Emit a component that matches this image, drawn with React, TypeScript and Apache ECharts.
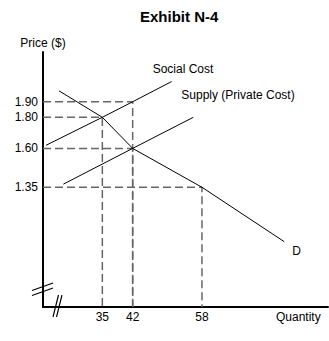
import React, { useEffect, useRef } from "react";
import * as echarts from "echarts";

const quantityTicks = [35, 42, 58];
const priceTicks = [1.35, 1.6, 1.8, 1.9];
const socialCost = [[22, 1.62], [35, 1.8], [42, 1.9], [51, 2.03]];
const supply = [[26, 1.37], [42, 1.6], [56, 1.8]];
const demand = [[25, 1.97], [35, 1.8], [42, 1.6], [58, 1.35], [77, 1.0]];
const equilibria = [[42, 1.9], [35, 1.8], [42, 1.6], [58, 1.35]];
const quantityRange = [21.3, 87.1];
const priceRange = [0.58, 2.22];

const FONT = "'Liberation Sans', Arial, Helvetica, sans-serif";

export default function App() {
  const ref = useRef<HTMLDivElement>(null);
  useEffect(() => {
    if (!ref.current) return;
    const chart = echarts.init(ref.current, undefined, { renderer: "svg" });
    const [xMin, xMax] = quantityRange;
    const [yMin, yMax] = priceRange;

    const guideSeries = equilibria.map(([q, p]) => ({
      type: "line",
      silent: true,
      showSymbol: false,
      symbol: "none",
      z: 1,
      data: [[xMin, p], [q, p], [q, yMin]],
      lineStyle: { color: "#666", width: 1.5, type: [8, 4] },
    }));

    const curve = (name: string, data: number[][], offset: number[]) => ({
      type: "line",
      name,
      silent: true,
      showSymbol: false,
      symbol: "none",
      z: 3,
      data,
      lineStyle: { color: "#000", width: 1 },
      endLabel: {
        show: true,
        formatter: name,
        offset,
        color: "#000",
        fontSize: 12,
        fontFamily: FONT,
      },
    });

    chart.setOption({
      animation: false,
      backgroundColor: "#fff",
      title: {
        text: "Exhibit N-4",
        left: 140,
        top: 9,
        padding: 0,
        textStyle: { fontSize: 15, fontWeight: "bold", color: "#000", fontFamily: FONT },
      },
      grid: { left: 43, right: 1, top: 52, bottom: 34, containLabel: false },
      xAxis: {
        type: "value",
        min: xMin,
        max: xMax,
        name: "Quantity",
        nameLocation: "end",
        nameGap: -52,
        nameTextStyle: {
          color: "#000",
          fontSize: 12,
          fontFamily: FONT,
          align: "left",
          verticalAlign: "top",
          padding: [4, 0, 0, 0],
        },
        axisLine: { show: true, lineStyle: { color: "#000", width: 2 } },
        axisTick: { show: false },
        splitLine: { show: false },
        axisLabel: {
          customValues: quantityTicks,
          formatter: (v: number) => String(v),
          margin: 4,
          color: "#000",
          fontSize: 12,
          fontFamily: FONT,
        },
      },
      yAxis: {
        type: "value",
        min: yMin,
        max: yMax,
        name: "Price ($)",
        nameLocation: "end",
        nameGap: 3,
        nameTextStyle: { color: "#000", fontSize: 12, fontFamily: FONT },
        axisLine: { show: true, onZero: false, lineStyle: { color: "#000", width: 2 } },
        axisTick: { show: false },
        splitLine: { show: false },
        axisLabel: {
          customValues: priceTicks,
          formatter: (v: number) => v.toFixed(2),
          margin: 5,
          color: "#000",
          fontSize: 12,
          fontFamily: FONT,
        },
      },
      series: [
        ...guideSeries,
        curve("Social Cost", socialCost, [-27, -13]),
        curve("Supply (Private Cost)", supply, [-20, -22]),
        curve("D", demand, [0, 9]),
      ],
      graphic: [
        { type: "line", shape: { x1: 32, y1: 290.5, x2: 53, y2: 283 }, style: { stroke: "#000", lineWidth: 1.2 }, z: 10 },
        { type: "line", shape: { x1: 32, y1: 295.5, x2: 53, y2: 288 }, style: { stroke: "#000", lineWidth: 1.2 }, z: 10 },
        { type: "line", shape: { x1: 53, y1: 317, x2: 58.5, y2: 295 }, style: { stroke: "#000", lineWidth: 1.2 }, z: 10 },
        { type: "line", shape: { x1: 56.5, y1: 317, x2: 62, y2: 295 }, style: { stroke: "#000", lineWidth: 1.2 }, z: 10 },
      ],
    });
    return () => chart.dispose();
  }, []);
  return (
    <div
      ref={ref}
      style={{ position: "fixed", left: 0, top: 0, width: 329, height: 341, background: "#fff" }}
    />
  );
}
